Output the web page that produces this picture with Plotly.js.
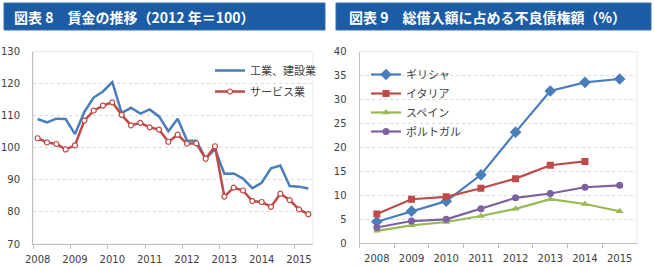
<!DOCTYPE html>
<html>
<head>
<meta charset="utf-8">
<script src="https://cdn.plot.ly/plotly-3.0.1.min.js"></script>
<style>
html,body{margin:0;padding:0;background:#fff;}
#chart{width:655px;height:267px;}
</style>
</head>
<body>
<div id="chart"></div>
<script>
// ---- Chart 8: wages (2012 = 100), quarterly 2008Q1 - 2015Q2 ----
const quarters = [
  '2008Q1','2008Q2','2008Q3','2008Q4','2009Q1','2009Q2','2009Q3','2009Q4',
  '2010Q1','2010Q2','2010Q3','2010Q4','2011Q1','2011Q2','2011Q3','2011Q4',
  '2012Q1','2012Q2','2012Q3','2012Q4','2013Q1','2013Q2','2013Q3','2013Q4',
  '2014Q1','2014Q2','2014Q3','2014Q4','2015Q1','2015Q2'
];
const industryConstruction = [
  109.0,107.9,109.1,109.0,104.3,111.2,115.7,117.6,
  120.5,110.9,112.5,110.7,112.0,109.8,105.2,109.1,
  102.3,102.2,96.6,99.6,91.9,92.0,90.4,87.4,
  89.1,93.6,94.5,88.1,87.9,87.3
];
const services = [
  103.0,101.7,101.2,99.5,100.8,108.5,111.6,113.2,
  114.2,110.3,107.0,107.8,106.4,105.7,101.9,104.1,
  101.3,101.4,96.6,100.5,84.8,87.6,86.7,83.4,
  83.1,81.6,85.7,83.7,80.8,79.3
];
const wageYearLabels = ['2008','2009','2010','2011','2012','2013','2014','2015'];
const wageSeriesNames = ['工業、建設業','サービス業'];

// ---- Chart 9: NPL share of total loans (%) ----
const years = ['2008','2009','2010','2011','2012','2013','2014','2015'];
const greece   = [4.5, 6.7, 8.8, 14.3, 23.2, 31.8, 33.6, 34.3];
const italy    = [6.1, 9.2, 9.7, 11.5, 13.5, 16.3, 17.1];
const spain    = [2.6, 3.75, 4.45, 5.7, 7.2, 9.2, 8.2, 6.7];
const portugal = [3.3, 4.65, 5.0, 7.2, 9.5, 10.4, 11.7, 12.1];
const nplSeriesNames = ['ギリシャ','イタリア','スペイン','ポルトガル'];

const titles = ['図表 8　賃金の推移（2012 年＝100）', '図表 9　総借入額に占める不良債権額（%）'];

const W = 655, H = 267;
const px = v => v / W;
const py = v => (H - v) / H;

const qIdx = quarters.map((q, i) => i);
const yearLabelPos = quarters.map((q, i) => i).filter(i => quarters[i].endsWith('Q1'));
const yearBoundaries = yearLabelPos.map(i => i - 0.5);
const yIdx = years.map((y, i) => i);

const NUM_FONT = 'DejaVu Sans, Verdana, sans-serif';
const JP_FONT = 'Noto Sans CJK JP, sans-serif';
const TICK_COL = '#404040';

const traces = [
  {x: qIdx, y: industryConstruction, name: wageSeriesNames[0], type: 'scatter', mode: 'lines',
   line: {color: '#4a7ebb', width: 2.5}, xaxis: 'x', yaxis: 'y', legend: 'legend'},
  {x: qIdx, y: services, name: wageSeriesNames[1], type: 'scatter', mode: 'lines+markers',
   line: {color: '#be4b48', width: 2.5},
   marker: {symbol: 'circle', size: 5, color: '#ffffff', line: {color: '#be4b48', width: 1.2}},
   xaxis: 'x', yaxis: 'y', legend: 'legend3'},

  {x: yIdx, y: greece, name: nplSeriesNames[0], type: 'scatter', mode: 'lines+markers',
   line: {color: '#4a7ebb', width: 2.2}, marker: {symbol: 'diamond', size: 9, color: '#4a7ebb'},
   xaxis: 'x2', yaxis: 'y2', legend: 'legend2'},
  {x: yIdx.slice(0, italy.length), y: italy, name: nplSeriesNames[1], type: 'scatter', mode: 'lines+markers',
   line: {color: '#be4b48', width: 2.2}, marker: {symbol: 'square', size: 7, color: '#be4b48'},
   xaxis: 'x2', yaxis: 'y2', legend: 'legend2'},
  {x: yIdx, y: spain, name: nplSeriesNames[2], type: 'scatter', mode: 'lines+markers',
   line: {color: '#98b954', width: 2.2}, marker: {symbol: 'triangle-up', size: 7, color: '#98b954'},
   xaxis: 'x2', yaxis: 'y2', legend: 'legend2'},
  {x: yIdx, y: portugal, name: nplSeriesNames[3], type: 'scatter', mode: 'lines+markers',
   line: {color: '#7d60a0', width: 2.2}, marker: {symbol: 'circle', size: 7, color: '#7d60a0'},
   xaxis: 'x2', yaxis: 'y2', legend: 'legend2'}
];

const axisCommon = {
  showline: true, linecolor: '#bfbfbf', linewidth: 1,
  tickfont: {family: NUM_FONT, size: 10, color: TICK_COL},
  zeroline: false, fixedrange: true
};

const legendCommon = {
  xanchor: 'left', yanchor: 'top',
  bgcolor: 'rgba(255,255,255,0)', borderwidth: 0,
  font: {family: JP_FONT, size: 11, color: TICK_COL},
  tracegroupgap: 0
};

const layout = {
  width: W, height: H,
  margin: {l: 0, r: 0, t: 0, b: 0},
  paper_bgcolor: '#ffffff', plot_bgcolor: '#ffffff',
  showlegend: true,
  xaxis: Object.assign({}, axisCommon, {
    domain: [px(33), px(313)], anchor: 'y',
    range: [-0.5, quarters.length - 0.5],
    tickmode: 'array', tickvals: yearLabelPos, ticktext: wageYearLabels,
    ticks: '', showgrid: false, ticklabelstandoff: 6,
    minor: {tickmode: 'array', tickvals: yearBoundaries, ticks: 'outside', ticklen: 4, tickcolor: '#bfbfbf', showgrid: false}
  }),
  yaxis: Object.assign({}, axisCommon, {
    domain: [py(244), py(51.7)], anchor: 'x',
    range: [70, 130], dtick: 10, tick0: 70,
    showgrid: true, gridcolor: '#d9d9d9', griddash: 'dot', gridwidth: 1,
    ticks: '', ticklabelstandoff: 10
  }),
  xaxis2: Object.assign({}, axisCommon, {
    domain: [px(359.5), px(637)], anchor: 'y2',
    range: [-0.5, years.length - 0.5],
    tickmode: 'array', tickvals: yIdx, ticktext: years,
    ticks: '', showgrid: false, ticklabelstandoff: 6,
    minor: {tickmode: 'array', tickvals: yIdx.map(i => i - 0.5), ticks: 'outside', ticklen: 4, tickcolor: '#bfbfbf', showgrid: false}
  }),
  yaxis2: Object.assign({}, axisCommon, {
    domain: [py(243.3), py(51.7)], anchor: 'x2',
    range: [0, 40], dtick: 5, tick0: 0,
    showgrid: true, gridcolor: '#d9d9d9', griddash: 'dot', gridwidth: 1,
    ticks: '', ticklabelstandoff: 10
  }),
  legend: Object.assign({}, legendCommon, {x: px(210), y: py(56)}),
  legend3: Object.assign({}, legendCommon, {x: px(210), y: py(77)}),
  legend2: Object.assign({}, legendCommon, {x: px(366), y: py(60)}),
  shapes: [
    {type: 'rect', xref: 'paper', yref: 'paper', x0: px(4), x1: px(325), y0: py(30), y1: py(3),
     fillcolor: '#1c5ca5', line: {color: '#3d6fa8', width: 1}, layer: 'below'},
    {type: 'rect', xref: 'paper', yref: 'paper', x0: px(336), x1: px(651), y0: py(30), y1: py(3),
     fillcolor: '#1c5ca5', line: {color: '#3d6fa8', width: 1}, layer: 'below'},
    {type: 'rect', xref: 'x domain', yref: 'y domain', x0: 0, x1: 1, y0: 0, y1: 1,
     line: {color: '#ebebeb', width: 1}, layer: 'below'},
    {type: 'rect', xref: 'x2 domain', yref: 'y2 domain', x0: 0, x1: 1, y0: 0, y1: 1,
     line: {color: '#ebebeb', width: 1}, layer: 'below'}
  ],
  annotations: [
    {xref: 'paper', yref: 'paper', x: px(12), y: py(16.5), xanchor: 'left', yanchor: 'middle',
     text: titles[0], showarrow: false,
     font: {family: JP_FONT, size: 14, color: '#ffffff', weight: 'bold'}},
    {xref: 'paper', yref: 'paper', x: px(347), y: py(16.5), xanchor: 'left', yanchor: 'middle',
     text: titles[1], showarrow: false,
     font: {family: JP_FONT, size: 14, color: '#ffffff', weight: 'bold'}}
  ]
};

Plotly.newPlot('chart', traces, layout, {staticPlot: true, displayModeBar: false});
</script>
</body>
</html>
